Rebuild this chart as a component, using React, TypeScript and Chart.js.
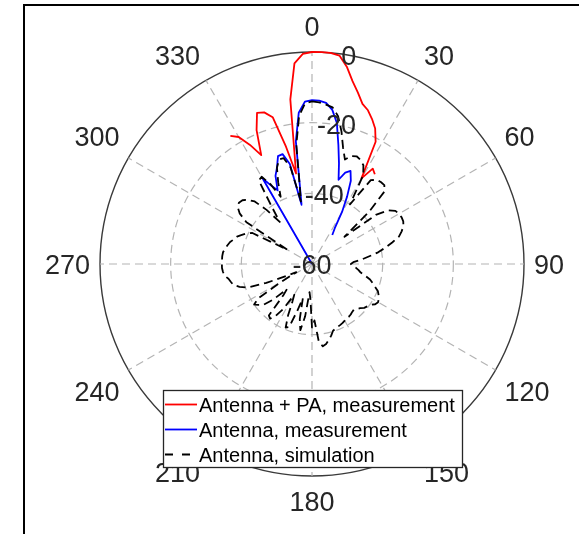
import React, { useEffect, useRef } from "react";
import { Chart, registerables } from "chart.js";

Chart.register(...registerables);

// ---- data ----
const STEP = 2.5; // degrees between samples
const ANGLES: number[] = Array.from({ length: 144 }, (_, i) => i * STEP);
const ANGLE_TICKS = [0, 30, 60, 90, 120, 150, 180, 210, 240, 270, 300, 330];
const RADIAL_TICKS = [-60, -40, -20, 0];
const R_MIN = -60;
const R_MAX = 0;

const SERIES_NAMES = [
  "Antenna + PA, measurement",
  "Antenna, measurement",
  "Antenna, simulation",
];

// Antenna + PA, measurement: from 327.5 deg clockwise to 35 deg
const RED_FROM = 327.5;
const RED_DB = [
  -17, -18.5, -22, -26, -19, -14.5, -15, -17, -26, -34, -13, -3, -0.5,
  0, 0, 0, -0.5, -3.3, -7, -9.8, -12.5, -13.7, -15.6, -17.7, -21, -32, -28, -29,
];

// Antenna, measurement: from 327.5 deg clockwise to 35 deg
const BLUE_FROM = 327.5;
const BLUE_DB = [
  -60, -32, -35, -37, -33, -31, -28, -27.8, -31, -43, -25, -17, -14,
  -13.6, -13.7, -14.2, -16, -19.5, -25.5, -30.5, -35, -32.5, -31.5, -34, -38.5, -43, -48, -50,
];

// Antenna, simulation: full circle, 0 .. 357.5 deg
const SIM_DB = [
  -14, -14.2, -14.7, -15.3, -17.5, -21.5, -26, -29, -27.5, -27, -27.5, -28.5,
  -31, -40, -31, -30, -29.7, -29.7, -31, -38, -48, -37, -33.5, -32,
  -31.6, -31.4, -31.5, -32, -33, -34.2, -36.5, -38.8, -41, -43.8, -46, -48.3,
  -49, -48.5, -47.5, -46.7, -46, -44.5, -43, -42, -41, -39.8, -39.2, -38.7,
  -38.4, -38.8, -39.8, -40.3, -40.7, -41.5, -42, -42.5, -42.3, -42, -41.8, -41.8,
  -41.5, -41.2, -41, -40.8, -40.5, -40.2, -39, -38, -37, -36.5, -38, -44,
  -42, -50, -52, -45, -41, -44, -50, -46, -41, -40.5, -44, -48,
  -50, -45, -42, -40.5, -41, -48, -50, -45, -42, -41, -40, -42,
  -50, -55, -52, -46, -40.5, -38.5, -37, -36.5, -36, -35, -34.7, -34.5,
  -34.5, -34.5, -34.5, -34.6, -35, -35.5, -36, -36.8, -37.4, -38.5, -39.5, -41,
  -52, -38, -35, -33.5, -33, -33.3, -34.3, -36, -40, -45, -40, -32,
  -31.5, -34.5, -39, -35, -31, -29, -29, -32, -42, -26, -18, -14.5,
];

function place(from: number, vals: number[]): (number | null)[] {
  const out: (number | null)[] = ANGLES.map(() => null);
  const start = Math.round(from / STEP);
  vals.forEach((v, k) => {
    out[(start + k) % ANGLES.length] = v;
  });
  return out;
}

const FONT = '"Liberation Sans", Arial, Helvetica, sans-serif';
const TEXT_COLOR = "#262626";

const overlayPlugin = {
  id: "overlay",
  afterDatasetsDraw(chart: any) {
    const ctx: CanvasRenderingContext2D = chart.ctx;
    const scale = chart.scales.r;
    ctx.save();
    ctx.setLineDash([]);
    const fs = 27;
    const capH = 0.716 * fs;
    ctx.font = `${fs}px ${FONT}`;
    ctx.fillStyle = TEXT_COLOR;
    ctx.textAlign = "left";
    ctx.textBaseline = "alphabetic";

    // radial tick labels, placed along the 10 deg direction
    const labelIdx = Math.round(10 / STEP);
    RADIAL_TICKS.forEach((v) => {
      const p = scale.getPointPosition(labelIdx, scale.getDistanceFromCenterForValue(v));
      const t = String(v);
      const w = ctx.measureText(t).width;
      ctx.fillText(t, p.x - w / 2, p.y + capH / 2);
    });

    // angular labels
    ANGLE_TICKS.forEach((deg) => {
      const p = scale.getPointPosition(Math.round(deg / STEP), scale.drawingArea + 8);
      const t = String(deg);
      const w = ctx.measureText(t).width;
      let x: number;
      if (deg === 0 || deg === 180) x = p.x - w / 2;
      else if (deg < 180) x = p.x + 2;
      else x = p.x - 2 - w;
      let y: number;
      if (deg === 90 || deg === 270) y = p.y + capH / 2;
      else if (deg < 90 || deg > 270) y = p.y - 8;
      else y = p.y + 8 + capH;
      ctx.fillText(t, x, y);
    });

    // legend box
    const bx = 163, by = 390, bw = 299, bh = 77;
    ctx.fillStyle = "#ffffff";
    ctx.fillRect(bx, by, bw, bh);
    ctx.strokeStyle = "#262626";
    ctx.lineWidth = 1.3;
    ctx.strokeRect(bx + 0.5, by + 0.5, bw, bh);
    const lfs = 20;
    ctx.font = `${lfs}px ${FONT}`;
    chart.data.datasets.forEach((ds: any, i: number) => {
      const cy = 404.5 + i * 25;
      ctx.beginPath();
      ctx.strokeStyle = ds.borderColor;
      ctx.lineWidth = ds.borderWidth;
      ctx.setLineDash(ds.borderDash && ds.borderDash.length ? [8, 9] : []);
      ctx.moveTo(165, cy);
      ctx.lineTo(197, cy);
      ctx.stroke();
      ctx.setLineDash([]);
      ctx.fillStyle = "#000000";
      ctx.fillText(ds.label, 199, cy + 0.716 * lfs / 2);
    });
    ctx.restore();
  },
};

export default function App() {
  const ref = useRef<HTMLCanvasElement | null>(null);

  useEffect(() => {
    if (!ref.current) return;
    const gridGray = "#b4b4b4";
    const chart = new Chart(ref.current, {
      type: "radar",
      data: {
        labels: ANGLES.map((a) => String(a)),
        datasets: [
          {
            label: SERIES_NAMES[0],
            data: place(RED_FROM, RED_DB),
            borderColor: "#ff0000",
            borderWidth: 1.8,
            pointRadius: 0,
            pointHitRadius: 0,
            fill: false,
            spanGaps: false,
            order: 2,
          },
          {
            label: SERIES_NAMES[1],
            data: place(BLUE_FROM, BLUE_DB),
            borderColor: "#0000ff",
            borderWidth: 1.8,
            pointRadius: 0,
            pointHitRadius: 0,
            fill: false,
            spanGaps: false,
            order: 1,
          },
          {
            label: SERIES_NAMES[2],
            data: SIM_DB,
            borderColor: "#000000",
            borderWidth: 1.8,
            borderDash: [9, 5],
            pointRadius: 0,
            pointHitRadius: 0,
            fill: false,
            order: 0,
          },
        ] as any,
      },
      options: {
        animation: false,
        responsive: false,
        maintainAspectRatio: false,
        layout: { padding: { left: 100, right: 55, top: 52, bottom: 58 } },
        plugins: {
          legend: { display: false },
          tooltip: { enabled: false },
        },
        elements: { line: { tension: 0, borderJoinStyle: "round" } },
        scales: {
          r: {
            min: R_MIN,
            max: R_MAX,
            ticks: { display: false, stepSize: 20 },
            pointLabels: { display: false },
            grid: {
              circular: true,
              color: (c: any) => (c.tick && c.tick.value === R_MAX ? "#3a3a3a" : gridGray),
              lineWidth: (c: any) => (c.tick && c.tick.value === R_MIN ? 0 : c.tick && c.tick.value === R_MAX ? 1.4 : 1.2),
            },
            border: {
              dash: (c: any) => (c.tick && c.tick.value === R_MAX ? [] : [8, 5]),
            },
            angleLines: {
              color: gridGray,
              lineWidth: (c: any) => (c.index % Math.round(30 / STEP) === 0 ? 1.2 : 0),
              borderDash: [8, 5],
            },
          },
        } as any,
      },
      plugins: [overlayPlugin as any],
    });
    return () => chart.destroy();
  }, []);

  return (
    <div
      style={{
        position: "fixed",
        left: 0,
        top: 0,
        width: 579,
        height: 534,
        overflow: "hidden",
        background: "#ffffff",
      }}
    >
      <div
        style={{
          position: "absolute",
          left: 23,
          top: 4,
          width: 800,
          height: 800,
          border: "2px solid #000",
          boxSizing: "border-box",
        }}
      />
      <canvas
        ref={ref}
        width={579}
        height={534}
        style={{ position: "absolute", left: 0, top: 0, width: 579, height: 534 }}
      />
    </div>
  );
}
